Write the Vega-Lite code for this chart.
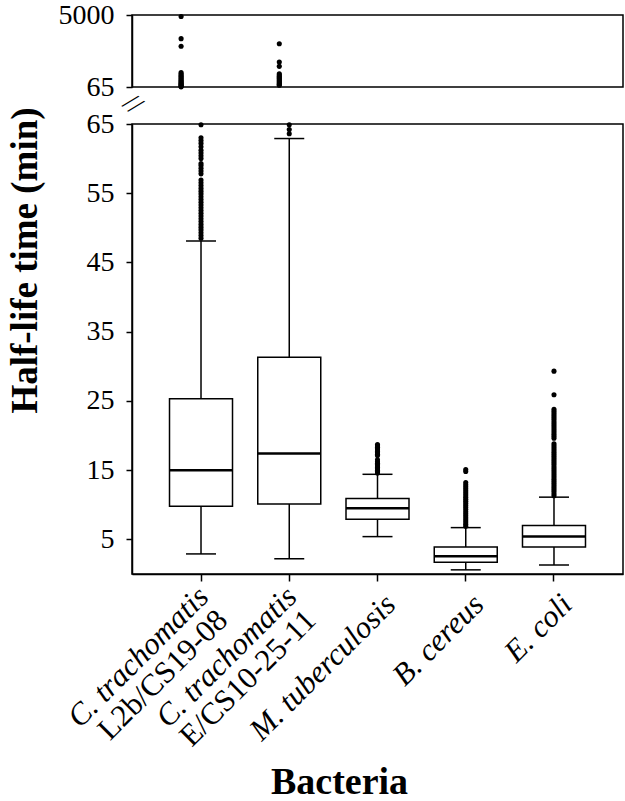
{
  "$schema": "https://vega.github.io/schema/vega-lite/v6.json",
  "padding": {"left": 5, "right": 3, "top": 0, "bottom": 0},
  "background": "white",
  "bounds": "flush",
  "spacing": 37,
  "config": {
    "font": "Liberation Serif",
    "view": {"stroke": "black", "strokeWidth": 1.5},
    "axis": {
      "domainColor": "black", "domainWidth": 1.5,
      "tickColor": "black", "tickWidth": 1.5,
      "labelColor": "black", "labelFont": "Liberation Serif", "labelFontSize": 28,
      "titleFont": "Liberation Serif", "titleColor": "black", "grid": false
    }
  },
  "datasets": {
    "stats": [
      {"bacteria": "L2b", "line1": "C. trachomatis", "line2": "L2b/CS19-08", "lower": 2.9, "q1": 9.8, "median": 15.0, "q3": 25.3, "upper": 48.1},
      {"bacteria": "E", "line1": "C. trachomatis", "line2": "E/CS10-25-11", "lower": 2.2, "q1": 10.1, "median": 17.4, "q3": 31.3, "upper": 62.9},
      {"bacteria": "Mtb", "line1": "M. tuberculosis", "line2": "", "lower": 5.4, "q1": 7.9, "median": 9.5, "q3": 10.9, "upper": 14.4},
      {"bacteria": "Bc", "line1": "B. cereus", "line2": "", "lower": 0.6, "q1": 1.7, "median": 2.55, "q3": 3.9, "upper": 6.7},
      {"bacteria": "Ec", "line1": "E. coli", "line2": "", "lower": 1.3, "q1": 3.9, "median": 5.4, "q3": 7.0, "upper": 11.1}
    ],
    "topOutliers": [
      {"bacteria": "L2b", "value": 4900}, {"bacteria": "L2b", "value": 3380}, {"bacteria": "L2b", "value": 2860},
      {"bacteria": "L2b", "value": 1050}, {"bacteria": "L2b", "value": 950}, {"bacteria": "L2b", "value": 860},
      {"bacteria": "L2b", "value": 780}, {"bacteria": "L2b", "value": 700}, {"bacteria": "L2b", "value": 620},
      {"bacteria": "L2b", "value": 550}, {"bacteria": "L2b", "value": 480}, {"bacteria": "L2b", "value": 420},
      {"bacteria": "L2b", "value": 360}, {"bacteria": "L2b", "value": 300}, {"bacteria": "L2b", "value": 250},
      {"bacteria": "L2b", "value": 200}, {"bacteria": "L2b", "value": 150}, {"bacteria": "L2b", "value": 110},
      {"bacteria": "L2b", "value": 75},
      {"bacteria": "E", "value": 3030}, {"bacteria": "E", "value": 1780}, {"bacteria": "E", "value": 1480},
      {"bacteria": "E", "value": 970}, {"bacteria": "E", "value": 880}, {"bacteria": "E", "value": 800},
      {"bacteria": "E", "value": 720}, {"bacteria": "E", "value": 640}, {"bacteria": "E", "value": 560},
      {"bacteria": "E", "value": 490}, {"bacteria": "E", "value": 420}, {"bacteria": "E", "value": 350},
      {"bacteria": "E", "value": 290}, {"bacteria": "E", "value": 230}, {"bacteria": "E", "value": 180}
    ],
    "bottomOutliers": [
      {"bacteria": "L2b", "value": 48.5}, {"bacteria": "L2b", "value": 48.9}, {"bacteria": "L2b", "value": 49.3},
      {"bacteria": "L2b", "value": 49.7}, {"bacteria": "L2b", "value": 50.1}, {"bacteria": "L2b", "value": 50.5},
      {"bacteria": "L2b", "value": 50.9}, {"bacteria": "L2b", "value": 51.3}, {"bacteria": "L2b", "value": 51.7},
      {"bacteria": "L2b", "value": 52.1}, {"bacteria": "L2b", "value": 52.5}, {"bacteria": "L2b", "value": 52.9},
      {"bacteria": "L2b", "value": 53.3}, {"bacteria": "L2b", "value": 53.7}, {"bacteria": "L2b", "value": 54.1},
      {"bacteria": "L2b", "value": 54.5}, {"bacteria": "L2b", "value": 54.9}, {"bacteria": "L2b", "value": 55.3},
      {"bacteria": "L2b", "value": 55.7}, {"bacteria": "L2b", "value": 56.1}, {"bacteria": "L2b", "value": 56.5},
      {"bacteria": "L2b", "value": 56.9}, {"bacteria": "L2b", "value": 57.8}, {"bacteria": "L2b", "value": 58.2},
      {"bacteria": "L2b", "value": 58.6}, {"bacteria": "L2b", "value": 59.0}, {"bacteria": "L2b", "value": 59.3},
      {"bacteria": "L2b", "value": 60.0}, {"bacteria": "L2b", "value": 60.4}, {"bacteria": "L2b", "value": 60.8},
      {"bacteria": "L2b", "value": 61.2}, {"bacteria": "L2b", "value": 61.7}, {"bacteria": "L2b", "value": 62.2},
      {"bacteria": "L2b", "value": 62.6}, {"bacteria": "L2b", "value": 63.0}, {"bacteria": "L2b", "value": 64.9},
      {"bacteria": "E", "value": 63.6}, {"bacteria": "E", "value": 64.2}, {"bacteria": "E", "value": 64.9},
      {"bacteria": "Mtb", "value": 14.6}, {"bacteria": "Mtb", "value": 14.8}, {"bacteria": "Mtb", "value": 15.0},
      {"bacteria": "Mtb", "value": 15.2}, {"bacteria": "Mtb", "value": 15.4}, {"bacteria": "Mtb", "value": 15.6},
      {"bacteria": "Mtb", "value": 15.8}, {"bacteria": "Mtb", "value": 16.0}, {"bacteria": "Mtb", "value": 16.2},
      {"bacteria": "Mtb", "value": 16.5}, {"bacteria": "Mtb", "value": 17.1}, {"bacteria": "Mtb", "value": 17.3},
      {"bacteria": "Mtb", "value": 17.5}, {"bacteria": "Mtb", "value": 17.7}, {"bacteria": "Mtb", "value": 17.9},
      {"bacteria": "Mtb", "value": 18.1}, {"bacteria": "Mtb", "value": 18.3}, {"bacteria": "Mtb", "value": 18.5},
      {"bacteria": "Mtb", "value": 18.7},
      {"bacteria": "Bc", "value": 6.9}, {"bacteria": "Bc", "value": 7.2}, {"bacteria": "Bc", "value": 7.5},
      {"bacteria": "Bc", "value": 7.8}, {"bacteria": "Bc", "value": 8.1}, {"bacteria": "Bc", "value": 8.4},
      {"bacteria": "Bc", "value": 8.7}, {"bacteria": "Bc", "value": 9.0}, {"bacteria": "Bc", "value": 9.3},
      {"bacteria": "Bc", "value": 9.6}, {"bacteria": "Bc", "value": 9.9}, {"bacteria": "Bc", "value": 10.2},
      {"bacteria": "Bc", "value": 10.5}, {"bacteria": "Bc", "value": 10.8}, {"bacteria": "Bc", "value": 11.1},
      {"bacteria": "Bc", "value": 11.4}, {"bacteria": "Bc", "value": 11.7}, {"bacteria": "Bc", "value": 12.0},
      {"bacteria": "Bc", "value": 12.3}, {"bacteria": "Bc", "value": 12.6}, {"bacteria": "Bc", "value": 12.9},
      {"bacteria": "Bc", "value": 13.2}, {"bacteria": "Bc", "value": 14.8}, {"bacteria": "Bc", "value": 15.1},
      {"bacteria": "Ec", "value": 11.3}, {"bacteria": "Ec", "value": 11.6}, {"bacteria": "Ec", "value": 11.9},
      {"bacteria": "Ec", "value": 12.2}, {"bacteria": "Ec", "value": 12.5}, {"bacteria": "Ec", "value": 12.8},
      {"bacteria": "Ec", "value": 13.1}, {"bacteria": "Ec", "value": 13.4}, {"bacteria": "Ec", "value": 13.7},
      {"bacteria": "Ec", "value": 14.0}, {"bacteria": "Ec", "value": 14.3}, {"bacteria": "Ec", "value": 14.6},
      {"bacteria": "Ec", "value": 14.9}, {"bacteria": "Ec", "value": 15.2}, {"bacteria": "Ec", "value": 15.5},
      {"bacteria": "Ec", "value": 15.8}, {"bacteria": "Ec", "value": 16.1}, {"bacteria": "Ec", "value": 16.4},
      {"bacteria": "Ec", "value": 16.7}, {"bacteria": "Ec", "value": 17.0}, {"bacteria": "Ec", "value": 17.3},
      {"bacteria": "Ec", "value": 17.6}, {"bacteria": "Ec", "value": 17.9}, {"bacteria": "Ec", "value": 18.2},
      {"bacteria": "Ec", "value": 18.5}, {"bacteria": "Ec", "value": 18.8}, {"bacteria": "Ec", "value": 19.6},
      {"bacteria": "Ec", "value": 19.9}, {"bacteria": "Ec", "value": 20.2}, {"bacteria": "Ec", "value": 20.5},
      {"bacteria": "Ec", "value": 20.8}, {"bacteria": "Ec", "value": 21.1}, {"bacteria": "Ec", "value": 21.4},
      {"bacteria": "Ec", "value": 21.7}, {"bacteria": "Ec", "value": 22.0}, {"bacteria": "Ec", "value": 22.3},
      {"bacteria": "Ec", "value": 22.6}, {"bacteria": "Ec", "value": 22.9}, {"bacteria": "Ec", "value": 23.2},
      {"bacteria": "Ec", "value": 23.5}, {"bacteria": "Ec", "value": 23.8}, {"bacteria": "Ec", "value": 25.9},
      {"bacteria": "Ec", "value": 29.3}
    ]
  },
  "vconcat": [
    {
      "width": 491,
      "height": 72,
      "data": {"name": "topOutliers"},
      "mark": {"type": "point", "filled": true, "color": "black", "size": 26, "opacity": 1, "clip": false},
      "encoding": {
        "x": {
          "field": "bacteria", "type": "nominal",
          "scale": {"domain": ["L2b", "E", "Mtb", "Bc", "Ec"], "paddingInner": 0, "paddingOuter": 0.282},
          "axis": {"domain": false, "ticks": false, "labels": false, "title": "//", "titleX": 0, "titleY": 17, "titleAngle": 40, "titleFontSize": 28, "titleFontWeight": "normal", "titleAlign": "center", "titleBaseline": "middle"}
        },
        "y": {
          "field": "value", "type": "quantitative",
          "scale": {"domain": [65, 5000], "nice": false, "zero": false},
          "axis": {"values": [65, 5000], "format": "d", "title": null, "tickSize": 6, "labelPadding": 12}
        }
      }
    },
    {
      "width": 491,
      "height": 450,
      "data": {"name": "stats"},
      "encoding": {
        "x": {
          "field": "bacteria", "type": "nominal",
          "scale": {"domain": ["L2b", "E", "Mtb", "Bc", "Ec"], "paddingInner": 0, "paddingOuter": 0.282},
          "axis": {"labels": false, "tickSize": 7, "title": "Bacteria", "titleFontSize": 38, "titleFontWeight": "bold", "titleX": 207, "titleY": 219, "titleAlign": "center", "titleBaseline": "alphabetic"}
        }
      },
      "layer": [
        {
          "mark": {"type": "rule", "color": "black", "strokeWidth": 1.5},
          "encoding": {
            "y": {
              "field": "lower", "type": "quantitative",
              "scale": {"domain": [0, 65], "nice": false, "zero": false},
              "axis": {
                "values": [5, 10, 15, 20, 25, 30, 35, 40, 45, 50, 55, 60, 65],
                "labelExpr": "datum.value % 10 == 5 ? datum.label : ''",
                "tickSize": 6, "labelPadding": 12,
                "title": "Half-life time (min)", "titleFontSize": 37, "titleFontWeight": "bold",
                "titleX": -106.5, "titleY": 136, "titleAngle": -90, "titleAlign": "center", "titleBaseline": "middle"
              }
            },
            "y2": {"field": "upper"}
          }
        },
        {
          "mark": {"type": "bar", "size": 63, "fill": "white", "stroke": "black", "strokeWidth": 1.5},
          "encoding": {
            "y": {"field": "q1", "type": "quantitative"},
            "y2": {"field": "q3"}
          }
        },
        {
          "mark": {"type": "tick", "size": 63, "thickness": 2.5, "color": "black", "opacity": 1},
          "encoding": {"y": {"field": "median", "type": "quantitative"}}
        },
        {
          "mark": {"type": "tick", "size": 30, "thickness": 1.5, "color": "black", "opacity": 1},
          "encoding": {"y": {"field": "upper", "type": "quantitative"}}
        },
        {
          "mark": {"type": "tick", "size": 30, "thickness": 1.5, "color": "black", "opacity": 1},
          "encoding": {"y": {"field": "lower", "type": "quantitative"}}
        },
        {
          "data": {"name": "bottomOutliers"},
          "mark": {"type": "point", "filled": true, "color": "black", "size": 26, "opacity": 1, "clip": false},
          "encoding": {"y": {"field": "value", "type": "quantitative"}}
        },
        {
          "transform": [{"filter": "datum.line2 == ''"}],
          "mark": {"type": "text", "angle": 315, "align": "right", "baseline": "middle", "dx": -9, "dy": 28, "fontSize": 31, "fontStyle": "italic", "color": "black", "font": "Liberation Serif"},
          "encoding": {"y": {"datum": 0}, "text": {"field": "line1"}}
        },
        {
          "transform": [{"filter": "datum.line2 != ''"}],
          "mark": {"type": "text", "angle": 315, "align": "right", "baseline": "middle", "dx": -11, "dy": 15, "fontSize": 31, "fontStyle": "italic", "color": "black", "font": "Liberation Serif"},
          "encoding": {"y": {"datum": 0}, "text": {"field": "line1"}}
        },
        {
          "transform": [{"filter": "datum.line2 != ''"}],
          "mark": {"type": "text", "angle": 315, "align": "right", "baseline": "middle", "dx": -14, "dy": 45, "fontSize": 31, "color": "black", "font": "Liberation Serif"},
          "encoding": {"y": {"datum": 0}, "text": {"field": "line2"}}
        }
      ]
    }
  ],
  "resolve": {"scale": {"x": "independent", "y": "independent"}}
}
